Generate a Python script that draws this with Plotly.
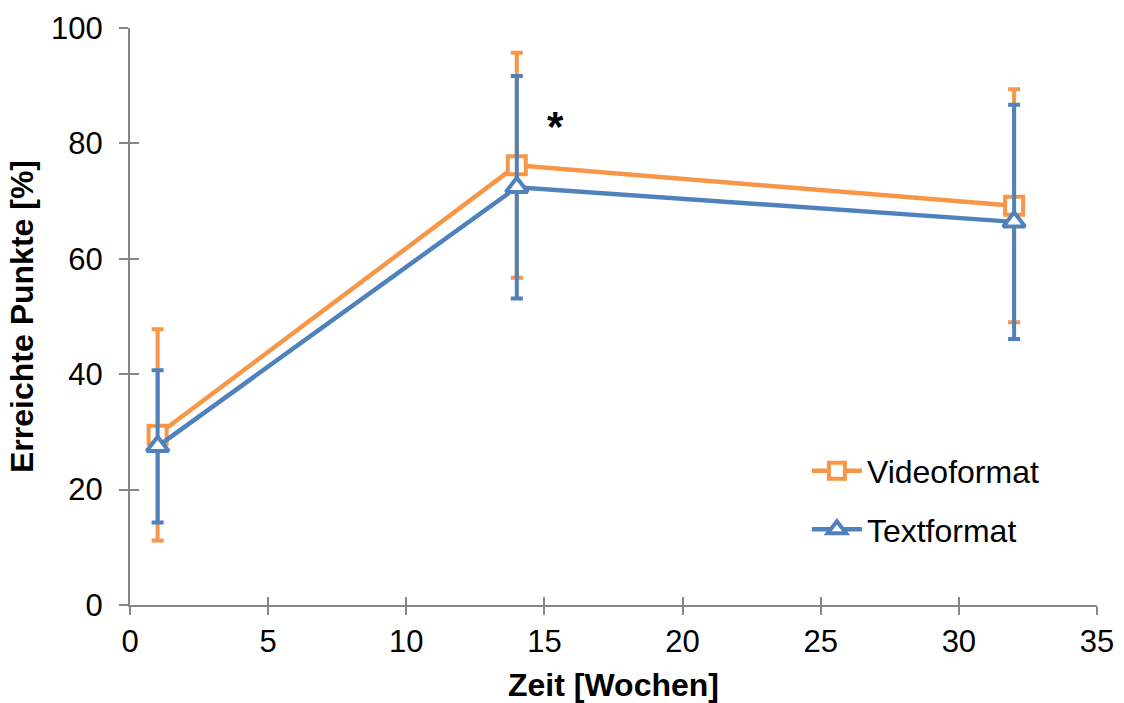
import plotly.graph_objects as go

weeks = [1, 14, 32]
video_mean = [29.5, 76.2, 69.2]
video_err = [18.3, 19.5, 20.2]
text_mean = [27.5, 72.4, 66.4]
text_err = [13.2, 19.3, 20.3]
x_ticks = [0, 5, 10, 15, 20, 25, 30, 35]
y_ticks = [0, 20, 40, 60, 80, 100]

ORANGE = "#F79646"
BLUE = "#4F81BD"
AXIS = "#868686"
FONT = "Liberation Sans, Arial, sans-serif"

fig = go.Figure()
fig.add_trace(go.Scatter(
    x=weeks, y=video_mean, name="Videoformat", mode="lines+markers",
    line=dict(color=ORANGE, width=4.5),
    marker=dict(symbol="square", size=18, color="white", line=dict(color=ORANGE, width=4)),
    error_y=dict(type="data", array=video_err, visible=True, color=ORANGE, thickness=4, width=6),
    legendgroup="a",
))
fig.add_trace(go.Scatter(
    x=weeks, y=text_mean, name="Textformat", mode="lines+markers",
    line=dict(color=BLUE, width=4.5),
    marker=dict(symbol="triangle-up", size=19, color="white", line=dict(color=BLUE, width=4)),
    error_y=dict(type="data", array=text_err, visible=True, color=BLUE, thickness=4, width=6),
    legendgroup="b",
))
# invisible trace to carry overlay axes for crossing ticks
fig.add_trace(go.Scatter(x=[None], y=[None], xaxis="x2", yaxis="y2", showlegend=False, hoverinfo="skip"))

fig.add_annotation(x=15.4, y=83, text="<b>*</b>", showarrow=False,
                   font=dict(size=42, color="black", family=FONT))

fig.update_layout(
    width=1124, height=703,
    margin=dict(l=130, r=27, t=28, b=98),
    paper_bgcolor="white", plot_bgcolor="white",
    font=dict(family=FONT, size=31, color="black"),
    showlegend=True,
    legend=dict(x=0.70, y=0.28, xanchor="left", yanchor="top",
                font=dict(size=32, family=FONT), tracegroupgap=14,
                traceorder="grouped", bgcolor="rgba(0,0,0,0)", itemwidth=50),
    xaxis=dict(range=[0, 35], tickvals=x_ticks, showgrid=False, zeroline=False,
               showline=True, linecolor=AXIS, linewidth=2, ticks="outside",
               ticklen=8, tickwidth=2, tickcolor=AXIS, tickfont=dict(size=31),
               title=dict(text="<b>Zeit [Wochen]</b>", font=dict(size=32), standoff=20),
               automargin=False),
    yaxis=dict(range=[0, 100], tickvals=y_ticks, showgrid=False, zeroline=False,
               showline=True, linecolor=AXIS, linewidth=2, ticks="outside",
               ticklen=9, tickwidth=2, tickcolor=AXIS, tickfont=dict(size=31),
               ticklabelstandoff=10,
               title=dict(text="<b>Erreichte Punkte [%]</b>", font=dict(size=32), standoff=8),
               automargin=False),
    xaxis2=dict(range=[0, 35], tickvals=x_ticks, overlaying="x", showgrid=False,
                zeroline=False, showline=False, ticks="inside", ticklen=8, tickwidth=2,
                tickcolor=AXIS, showticklabels=False, side="bottom"),
    yaxis2=dict(range=[0, 100], tickvals=y_ticks, overlaying="y", showgrid=False,
                zeroline=False, showline=False, ticks="inside", ticklen=9, tickwidth=2,
                tickcolor=AXIS, showticklabels=False, side="left"),
)

fig.write_html("out.html", config={"displayModeBar": False},
               post_script="document.body.style.margin='0';")
